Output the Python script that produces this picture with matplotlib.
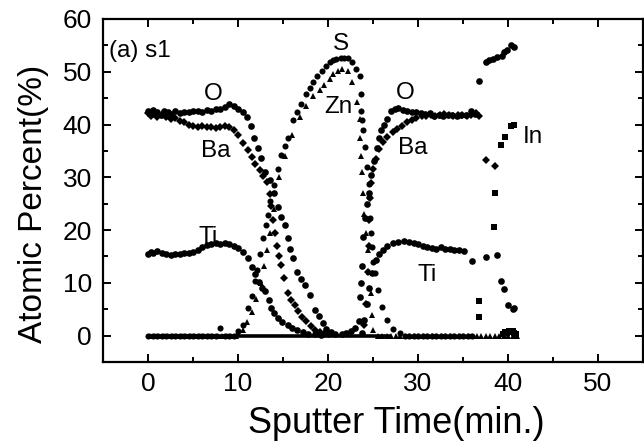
import matplotlib
matplotlib.use("Agg")
import matplotlib.pyplot as plt
from matplotlib.ticker import MultipleLocator

plt.rcParams['font.family'] = ['Liberation Sans', 'DejaVu Sans']

# ---------------- data ----------------
O_t = [0.0, 0.3, 0.6, 1.0, 1.4, 1.8, 2.2, 2.6, 3.0, 3.5, 4.0, 4.5, 5.0, 5.5, 6.0, 6.5, 7.0, 7.5,
       8.0, 8.5, 9.0, 9.5, 10.0, 10.5, 11.0, 11.4, 11.8, 12.2, 12.6, 13.0, 13.5, 14.0, 14.4, 14.8,
       15.2, 15.5, 15.8, 16.1, 16.6, 17.0, 17.4, 18.0, 18.5, 19.0, 19.4, 19.8, 20.3, 20.8, 21.5,
       22.0, 22.5, 23.0, 23.4, 23.6, 23.7, 23.8, 23.9, 24.1, 24.3, 24.5, 24.8, 25.1, 25.4, 25.7,
       25.9, 26.2, 26.5, 27.0, 27.4, 27.8, 28.3, 28.8, 29.3, 29.8, 30.3, 30.8, 31.3, 31.8, 32.3,
       32.8, 33.3, 33.8, 34.3, 34.8, 35.3, 35.9, 36.3, 36.8, 37.5, 37.9, 38.3, 38.8, 39.3, 39.6,
       39.9, 40.3, 40.7]
O_y = [42.6, 42.2, 42.8, 42.3, 41.8, 42.6, 42.4, 42.0, 42.5, 42.2, 42.4, 42.3, 42.5, 42.6, 42.4,
       42.7, 42.6, 43.0, 42.9, 43.3, 43.8, 43.6, 43.0, 42.4, 41.4, 39.8, 37.5, 35.5, 33.6, 31.0,
       29.5, 27.0, 24.4, 22.5, 20.9, 18.5, 16.5, 14.7, 12.1, 10.8, 9.6, 7.7, 4.9, 3.8, 2.4, 1.2,
       0.6, 0.4, 0.3, 0.5, 0.8, 1.5, 2.7, 7.4, 10.0, 13.1, 18.7, 22.3, 25.0, 27.0, 30.5, 33.0,
       35.5, 37.5, 38.9, 40.0, 41.1, 42.6, 43.0, 43.1, 42.8, 42.6, 42.3, 42.4, 42.1, 42.0, 42.2,
       41.7, 41.9, 41.6, 41.8, 41.9, 41.7, 41.8, 41.9, 42.6, 42.0, 48.3, 51.8, 52.2, 52.5, 52.8,
       52.9, 53.8, 54.2, 55.0, 54.6]

Ba_t = [0.0, 0.3, 0.7, 1.0, 1.5, 2.0, 2.5, 3.0, 3.5, 4.0, 4.5, 5.0, 5.5, 6.0, 6.5, 7.0, 7.5, 8.0,
        8.5, 9.0, 9.5, 10.0, 10.5, 11.1, 11.5, 11.9, 12.4, 12.8, 13.2, 13.5, 13.7, 13.9, 14.1,
        14.3, 14.6, 14.8, 15.1, 15.5, 15.9, 16.3, 16.7, 17.1, 17.6, 18.1, 18.6, 19.1, 19.6, 20.1,
        24.0, 24.2, 24.4, 24.5, 24.6, 24.7, 24.8, 25.0, 25.3, 25.7, 26.1, 26.6, 27.2, 27.7, 28.2,
        28.8, 29.3, 29.8, 30.4, 30.9, 31.4, 31.9, 32.4, 32.9, 33.4, 33.9, 34.4, 34.9, 35.4, 35.9,
        36.4, 36.8, 37.5, 38.6]
Ba_y = [42.2, 41.6, 42.0, 41.5, 41.9, 41.4, 41.0, 41.2, 40.6, 40.4, 40.0, 39.8, 39.6, 39.7, 39.5,
        39.6, 39.3, 39.5, 39.8, 39.6, 38.9, 38.0, 36.5, 35.1, 33.8, 32.6, 31.3, 30.2, 29.1, 26.8,
        24.5, 22.0, 19.5, 17.0, 15.0, 13.4, 11.0, 8.1, 6.8, 5.8, 4.6, 3.5, 2.7, 1.8, 1.1, 0.6,
        0.4, 0.3, 2.0, 6.0, 12.0, 17.0, 22.0, 26.0, 29.0, 31.5, 33.5, 35.3, 36.6, 37.6, 38.5,
        39.2, 39.8, 40.4, 40.8, 41.2, 41.7, 41.6, 41.9, 41.7, 41.8, 42.0, 41.8, 41.7, 41.9, 41.8,
        41.6, 41.9, 42.1, 41.7, 33.2, 32.1]

S_t = [0.0, 0.5, 1.0, 1.5, 2.0, 2.5, 3.0, 3.5, 4.0, 4.5, 5.0, 5.5, 6.0, 6.5, 7.0, 7.5, 8.0, 8.5,
       9.0, 9.5, 10.0, 10.5, 11.1, 11.5, 11.9, 12.1, 12.4, 12.8, 13.1, 13.3, 13.6, 14.0, 14.4,
       14.8, 15.2, 15.6, 16.1, 16.5, 17.0, 17.6, 18.0, 18.3, 18.8, 19.3, 19.8, 20.2, 20.6, 20.9,
       21.4, 21.8, 22.2, 22.7, 23.1, 23.5, 23.7, 23.7, 23.8, 23.9, 24.1, 24.3, 24.5, 24.6, 24.7,
       24.8, 24.9, 25.0, 25.2, 25.5, 26.0, 26.5, 27.2, 28.0, 28.5, 29.0, 29.5, 30.0, 30.5, 31.0,
       31.5, 32.0, 32.5, 33.0, 33.5, 34.0, 34.5, 35.0, 35.5, 36.0]
S_y = [0.0, 0.0, 0.0, 0.0, 0.0, 0.0, 0.0, 0.0, 0.0, 0.0, 0.0, 0.0, 0.0, 0.0, 0.0, 0.0, 1.4, 0.0,
       0.0, 0.0, 0.8, 2.0, 5.3, 7.5, 10.3, 12.5, 15.5, 18.5, 21.0, 22.8, 25.5, 28.5, 31.5, 34.2,
       36.0, 37.4, 40.8, 42.3, 43.8, 45.8, 47.0, 48.0, 49.2, 50.2, 51.0, 51.8, 52.2, 52.4, 52.6,
       52.7, 52.6, 51.8, 50.5, 49.2, 45.8, 42.6, 40.8, 38.9, 35.7, 32.0, 28.8, 26.3, 22.3, 19.4,
       16.8, 14.0, 11.9, 8.7, 5.5, 3.0, 1.3, 0.5, 0.0, 0.0, 0.0, 0.0, 0.0, 0.0, 0.0, 0.0, 0.0,
       0.0, 0.0, 0.0, 0.0, 0.0, 0.0, 0.0]

Zn_t = [0.25, 0.75, 1.25, 1.75, 2.25, 2.75, 3.25, 3.75, 4.25, 4.75, 5.25, 5.75, 6.25, 6.75, 7.25,
        7.75, 8.25, 8.75, 9.25, 9.75, 10.0, 10.5, 11.0, 11.5, 12.0, 12.5, 12.9, 13.2, 13.6, 14.0,
        14.6, 15.2, 16.0, 16.9, 17.5, 18.3, 19.1, 19.6, 20.2, 20.6, 21.1, 21.6, 22.2, 22.7, 23.2,
        23.5, 23.6, 23.7, 23.8, 23.9, 24.0, 24.2, 24.4, 24.6, 24.8, 24.9, 25.0, 25.5, 26.0, 26.5,
        27.0, 27.5, 28.0, 28.5, 29.0, 29.5, 30.0, 30.5, 31.0, 31.5, 32.0, 32.5, 33.0, 33.5, 34.0,
        34.5, 35.0, 35.5, 36.0, 36.5, 37.0, 37.5, 38.0, 38.5, 39.0, 39.5, 40.0, 40.5, 41.0]
Zn_y = [0.0, 0.0, 0.0, 0.0, 0.0, 0.0, 0.0, 0.0, 0.0, 0.0, 0.0, 0.0, 0.0, 0.0, 0.0, 0.0, 0.0, 0.0,
        0.0, 0.0, 0.5, 1.0, 2.5, 4.5, 7.0, 10.0, 13.1, 16.2, 19.5, 24.0, 30.0, 34.0, 38.0, 41.5,
        43.5, 45.5, 46.5, 47.5, 48.6, 49.5, 50.2, 50.5, 50.2, 48.0, 44.2, 41.1, 37.4, 34.0, 31.0,
        27.0, 23.0, 19.5, 16.2, 12.0, 8.0, 4.0, 1.0, 0.0, 0.0, 0.0, 0.0, 0.0, 0.0, 0.0, 0.0, 0.0,
        0.0, 0.0, 0.0, 0.0, 0.0, 0.0, 0.0, 0.0, 0.0, 0.0, 0.0, 0.0, 0.0, 0.0, 0.0, 0.0, 0.0, 0.0,
        0.0, 0.0, 0.0, 0.0, 0.0]

Ti_t = [0.0, 0.3, 0.6, 1.0, 1.5, 2.0, 2.5, 3.0, 3.5, 4.0, 4.5, 5.0, 5.5, 6.0, 6.5, 7.0, 7.5, 8.0,
        8.5, 9.0, 9.5, 10.0, 10.5, 11.1, 11.5, 11.9, 12.3, 12.7, 13.0, 13.4, 13.7, 14.0, 14.4,
        14.9, 15.5, 16.0, 16.6, 17.2, 17.8, 18.5, 19.2, 23.8, 24.0, 24.3, 24.6, 24.9, 25.3, 25.7,
        26.1, 26.6, 27.2, 27.8, 28.4, 29.0, 29.5, 30.0, 30.5, 31.0, 31.5, 32.0, 32.5, 33.0, 33.5,
        34.0, 34.5, 35.1, 36.0, 37.6, 38.8, 39.2, 39.6, 40.0, 40.5, 40.7]
Ti_y = [15.4, 15.8, 15.6, 16.0, 15.7, 15.4, 15.3, 15.5, 15.4, 15.7, 15.6, 15.9, 16.3, 16.8, 17.2,
        17.4, 17.6, 17.3, 17.5, 17.3, 17.0, 16.6, 15.8, 14.7, 13.0, 11.6, 10.2, 9.0, 8.4, 6.8,
        5.3, 4.3, 3.4, 2.6, 2.1, 1.5, 1.0, 0.6, 0.4, 0.3, 0.2, 0.5, 3.0, 6.0, 9.0, 11.9, 14.3,
        15.5, 16.2, 17.0, 17.5, 17.8, 17.9, 17.8, 17.6, 17.3, 17.0, 16.8, 16.6, 16.4, 16.7, 16.5,
        16.4, 16.3, 16.2, 16.1, 14.2, 14.9, 15.2, 10.4, 8.9, 5.8, 5.1, 5.2]

In_base_t = [0.0, 27.0]
In_base_y = [0.0, 0.0]
In_t = [36.8, 36.8, 38.4, 38.5, 39.2, 39.7, 40.3, 40.7,
        39.4, 39.7, 39.9, 40.1, 40.3, 40.5, 40.7, 40.9]
In_y = [3.6, 6.5, 20.6, 27.0, 36.2, 37.7, 39.8, 40.0,
        0.4, 0.7, 0.5, 0.9, 0.6, 0.8, 0.5, 0.4]

x_ticks = [0, 10, 20, 30, 40, 50]
y_ticks = [0, 10, 20, 30, 40, 50, 60]

labels = [("(a) s1", -4.3, 54.0), ("O", 7.2, 45.7), ("Ba", 7.5, 34.9), ("Ti", 6.7, 18.7),
          ("S", 21.4, 55.3), ("Zn", 21.1, 43.4), ("O", 28.6, 46.0), ("Ba", 29.4, 35.6),
          ("Ti", 31.0, 11.5), ("In", 42.8, 37.7)]

# ---------------- figure ----------------
fig = plt.figure(figsize=(6.44, 4.41), dpi=100)
ax = fig.add_axes([103 / 644, 79 / 441, 540 / 644, 343 / 441])

k = dict(color='black', linestyle='none', markeredgewidth=0, clip_on=False)
ax.plot(In_base_t, In_base_y, color='black', lw=2.6, solid_capstyle='butt')
ax.plot(O_t, O_y, marker='o', markersize=4.8, **k)
ax.plot(Ba_t, Ba_y, marker='D', markersize=4.0, **k)
ax.plot(S_t, S_y, marker='o', markersize=4.4, **k)
ax.plot(Zn_t, Zn_y, marker='^', markersize=4.6, **k)
ax.plot(Ti_t, Ti_y, marker='o', markersize=4.8, **k)
ax.plot(In_t, In_y, marker='s', markersize=4.0, **k)

for txt, x, y in labels:
    ha = 'left' if txt.startswith('(') else 'center'
    ax.text(x, y, txt, fontsize=17.5, ha=ha, va='center', color='black')

ax.set_xlim(-5, 55)
ax.set_ylim(-5, 60)
ax.set_xticks(x_ticks)
ax.set_yticks(y_ticks)
ax.xaxis.set_minor_locator(MultipleLocator(5))
ax.yaxis.set_minor_locator(MultipleLocator(5))
ax.tick_params(which='both', direction='in', top=True, right=True, width=1.4, colors='black')
ax.tick_params(which='major', length=5.5)
ax.tick_params(which='minor', length=3.5)
ax.tick_params(axis='x', which='major', labelsize=19, pad=7)
ax.tick_params(axis='y', which='major', labelsize=19, pad=8)
for s in ax.spines.values():
    s.set_linewidth(1.6)

ax.set_xlabel("Sputter Time(min.)", fontsize=26)
ax.set_ylabel("Atomic Percent(%)", fontsize=24)
ax.xaxis.set_label_coords(0.543, -0.128)
ax.yaxis.set_label_coords(-0.1, 0.46)

fig.savefig("out.png", dpi=100)
